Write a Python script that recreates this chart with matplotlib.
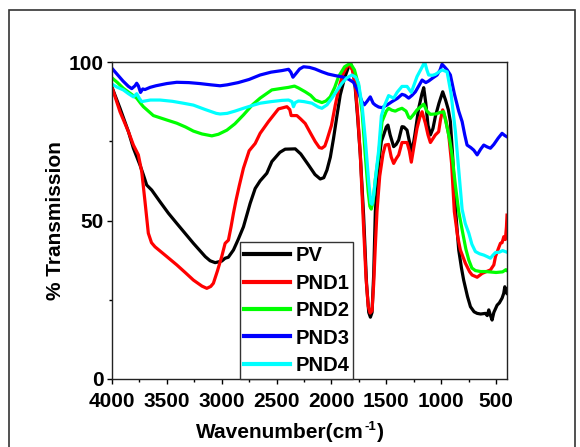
import matplotlib
matplotlib.use("Agg")
import matplotlib.pyplot as plt
from matplotlib.patches import Rectangle
from matplotlib.ticker import MultipleLocator

plt.rcParams['font.family'] = ['Liberation Sans', 'DejaVu Sans']
plt.rcParams['font.weight'] = 'bold'

# ---------------- data (wavenumber cm-1, % transmission) ----------------
pv_wn = [4000, 3927, 3850, 3805, 3745, 3714, 3684, 3638, 3562, 3486, 3410, 3258, 3150, 3106, 3060, 3000,
         2969, 2940, 2893, 2850, 2802, 2741, 2695, 2650, 2589, 2543, 2470, 2422, 2330, 2280, 2209, 2150,
         2102, 2070, 2041, 2010, 1981, 1950, 1920, 1880, 1844, 1825, 1800, 1783, 1760, 1737, 1707, 1680,
         1660, 1645, 1630, 1615, 1600, 1570, 1545, 1524, 1500, 1485, 1465, 1433, 1410, 1387, 1357, 1340,
         1311, 1290, 1265, 1240, 1205, 1175, 1159, 1140, 1120, 1098, 1075, 1053, 1020, 986, 960, 935, 916,
         895, 870, 840, 815, 795, 760, 733, 700, 672, 640, 597, 580, 566, 550, 536, 520, 490, 470, 445,
         430, 420, 410, 400]
pv_t = [92, 85.4, 78, 72.8, 67.5, 64.4, 61.2, 59.6, 55.9, 52.3, 49.1, 42.8, 38.6, 37.3, 36.7, 37.2,
        38.1, 38.4, 40.7, 44, 48, 55.4, 60.1, 62.5, 64.9, 68.6, 71.5, 72.5, 72.6, 71, 67.5, 64.5,
        63.1, 63.5, 65.9, 70, 75.9, 83, 89.6, 95, 98.5, 99.5, 97, 91.7, 82, 70.7, 51.7, 30,
        21, 19.5, 21, 33, 52.8, 68, 75, 77, 79.5, 80.1, 77, 73.3, 74, 75.4, 79.6, 79.5,
        78.5, 75, 71.7, 77, 85.4, 90, 91.9, 87, 80, 77, 79, 82.8, 87, 90.6, 88, 85, 81.2,
        70, 53.8, 40.7, 35, 31.2, 26, 22.8, 21.2, 20.7, 20.5, 20.7, 20, 21.8, 20, 18.6, 21, 23.3, 24, 25.5,
        27, 29.1, 28, 27]

pnd1_wn = [4000, 3927, 3850, 3805, 3760, 3729, 3699, 3669, 3640, 3608, 3500, 3410, 3330, 3258, 3180, 3136,
           3100, 3076, 3040, 3000, 2969, 2939, 2915, 2893, 2869, 2840, 2802, 2750, 2695, 2650, 2574, 2483,
           2406, 2380, 2367, 2315, 2280, 2239, 2190, 2148, 2110, 2087, 2060, 2041, 2000, 1965, 1930, 1899,
           1860, 1835, 1810, 1783, 1760, 1737, 1710, 1685, 1665, 1648, 1630, 1615, 1600, 1585, 1560, 1530,
           1509, 1479, 1455, 1433, 1410, 1387, 1357, 1311, 1290, 1272, 1245, 1220, 1195, 1174, 1144, 1120,
           1098, 1053, 1023, 1005, 986, 960, 931, 905, 880, 850, 825, 779, 740, 718, 672, 627, 580, 551,
           520, 505, 480, 460, 445, 429, 415, 405, 400]
pnd1_t = [92, 84.3, 78, 73.8, 70.7, 65.4, 55.9, 46, 43, 41.7, 38.6, 36, 33.5, 31.2, 29.3, 28.6,
          29.2, 30.2, 34, 38.6, 42.8, 43.8, 48, 52.3, 56.5, 61, 66.5, 72, 74.3, 77.5, 81.2, 85.2,
          85.9, 85, 83.1, 83.1, 82, 80.6, 77.5, 74.9, 73, 72.8, 73.5, 75.4, 80, 86.4, 92, 95.9,
          98.5, 99, 97.5, 92.7, 83, 70.7, 50, 32, 23, 20.8, 21.5, 30, 42, 52.8, 64, 71,
          73.8, 74, 70, 68, 69.5, 70.7, 74.6, 74.6, 72, 68.4, 74, 79.1, 82.5, 84.3, 80.7, 77,
          74.6, 77, 78, 82, 84.9, 82, 77, 68, 52.8, 45, 40.7, 36.5, 33.8, 32.8, 32.1, 33.3, 34, 34.4,
          36, 38.6, 41, 42.8, 43, 44.9, 44, 48, 51.7]

pnd2_wn = [4000, 3950, 3897, 3830, 3775, 3740, 3714, 3623, 3500, 3410, 3330, 3258, 3180, 3090, 3030, 2953,
           2880, 2802, 2720, 2650, 2543, 2450, 2391, 2337, 2300, 2239, 2190, 2148, 2087, 2050, 2011, 1970,
           1935, 1880, 1828, 1790, 1753, 1720, 1692, 1665, 1650, 1637, 1620, 1600, 1570, 1539, 1500, 1479,
           1450, 1418, 1390, 1357, 1320, 1295, 1281, 1250, 1220, 1159, 1130, 1098, 1050, 1007, 977, 950,
           925, 901, 870, 840, 803, 775, 748, 720, 688, 640, 597, 500, 440, 410, 400]
pnd2_t = [95, 93.5, 91.7, 90, 88.6, 87, 85.9, 83.1, 81.7, 80.7, 79.5, 78.2, 77.3, 76.7, 77.2, 78.5,
          80.5, 83.3, 86.5, 88.6, 91.2, 91.7, 92, 92.4, 91.8, 90.6, 89.5, 88, 87.2, 87.7, 89, 92,
          95.4, 98.5, 99.6, 97.5, 92.7, 84, 70.7, 59, 54.5, 53.6, 56, 63, 70.7, 81.2, 84.5, 85.4,
          84.8, 84.5, 85, 85.4, 84.5, 82.5, 82.2, 83.5, 84.9, 86.7, 84.5, 83.5, 83.6, 84.1, 84.3, 80,
          76, 70.7, 61, 52.8, 46, 41, 37.5, 35, 34.2, 33.9, 33.9, 33.6, 33.8, 34.5, 34.2]

pnd3_wn = [4000, 3950, 3900, 3850, 3820, 3790, 3775, 3760, 3740, 3720, 3700, 3653, 3600, 3500, 3410, 3300,
           3200, 3100, 3015, 2950, 2850, 2750, 2650, 2550, 2450, 2391, 2370, 2351, 2320, 2290, 2254, 2200,
           2150, 2087, 2030, 1965, 1900, 1844, 1800, 1760, 1722, 1700, 1675, 1646, 1620, 1600, 1570, 1539,
           1500, 1448, 1400, 1357, 1330, 1296, 1265, 1235, 1200, 1174, 1140, 1114, 1075, 1037, 1010, 992,
           970, 945, 916, 880, 840, 809, 785, 764, 730, 703, 672, 640, 612, 580, 551, 520, 480, 445,
           420, 400]
pnd3_t = [98, 96, 94, 92.3, 91.6, 92.5, 93.3, 92.5, 90.4, 91.5, 91.3, 92, 92.5, 93.2, 93.6, 93.5,
          93.2, 92.8, 92.5, 92.8, 93.5, 94.5, 95.9, 96.8, 97.3, 97.7, 96.8, 95.2, 96.5, 97.8, 98.5, 98.3,
          97.8, 96.9, 96.2, 95.7, 95.3, 94.6, 93.6, 91, 87.5, 86.5, 87.6, 89, 87, 86.4, 85.8, 85.6,
          86.3, 87.5, 88.5, 89.8, 89.5, 88.6, 89.5, 90.6, 92.7, 94.3, 93.5, 94, 95, 95.9, 97.5, 99.3,
          98.5, 97.5, 95.9, 90, 84.5, 81.2, 77, 73.8, 73, 72.2, 70.7, 72.5, 73.8, 73.2, 72.8, 74, 76, 77.5,
          76.8, 76.4]

pnd4_wn = [4000, 3950, 3897, 3850, 3805, 3775, 3750, 3729, 3700, 3650, 3562, 3450, 3350, 3258, 3150, 3050,
           3015, 2950, 2880, 2802, 2700, 2650, 2550, 2450, 2391, 2360, 2346, 2330, 2300, 2250, 2178, 2120,
           2087, 2040, 1996, 1950, 1905, 1860, 1813, 1780, 1753, 1720, 1692, 1660, 1640, 1630, 1615, 1590,
           1570, 1545, 1520, 1479, 1433, 1400, 1357, 1311, 1272, 1245, 1220, 1180, 1150, 1130, 1114, 1080,
           1053, 992, 946, 910, 870, 840, 809, 780, 748, 720, 688, 650, 612, 580, 551, 530, 505, 470,
           440, 400]
pnd4_t = [93, 92, 91.2, 90, 89, 90, 88.5, 87.5, 87.7, 88, 88, 87.6, 87, 86.4, 85, 83.8,
          83.6, 83.8, 84.5, 85.4, 86.5, 87, 87.5, 87.9, 88, 87.5, 85.9, 87.2, 87.7, 87.5, 87, 85.8,
          85.4, 86.5, 88.6, 91, 93.3, 95, 95.9, 95.2, 93.3, 86, 75.9, 62, 55.5, 55.1, 58, 66,
          72, 83, 86, 89.4, 88.6, 90.5, 92.3, 92.3, 90.4, 93, 95.4, 98, 100, 97.5, 95.9, 95.8,
          96.1, 97.5, 96.9, 90, 78, 66, 53.5, 49, 46, 42.5, 40.2, 39.5, 39.1, 38.6, 38.1, 39, 39.9, 40,
          40.5, 40]

series_names = ['PV', 'PND1', 'PND2', 'PND3', 'PND4']
series_colors = ['#000000', '#FF0000', '#00FF00', '#0000FF', '#00FFFF']

x_ticks = [4000, 3500, 3000, 2500, 2000, 1500, 1000, 500]
y_ticks = [0, 50, 100]

# ---------------- figure ----------------
W, H = 580, 447
fig = plt.figure(figsize=(5.8, 4.47), dpi=100)
ax = fig.add_axes([112 / W, 1 - 379 / H, (507 - 112) / W, (379 - 62) / H])

data = [(pv_wn, pv_t), (pnd1_wn, pnd1_t), (pnd2_wn, pnd2_t), (pnd3_wn, pnd3_t), (pnd4_wn, pnd4_t)]
for (wn, t), name, col in zip(data, series_names, series_colors):
    ax.plot(wn, t, color=col, lw=2.3, label=name, solid_joinstyle='round')

ax.set_xlim(4000, 400)
ax.set_ylim(0, 100)
ax.set_xticks(x_ticks)
ax.set_yticks(y_ticks)
ax.xaxis.set_minor_locator(MultipleLocator(250))
ax.yaxis.set_minor_locator(MultipleLocator(25))
ax.tick_params(axis='both', which='major', direction='out', length=3.8, width=1,
               labelsize=15, top=False, right=False)
ax.tick_params(axis='x', which='major', pad=5.5)
ax.tick_params(axis='y', which='major', pad=2)
ax.tick_params(axis='both', which='minor', direction='out', length=2.5, width=1,
               top=False, right=False)
for lab in ax.get_xticklabels() + ax.get_yticklabels():
    lab.set_fontweight('bold')
for sp in ax.spines.values():
    sp.set_linewidth(1.0)
    sp.set_color('#222222')

ax.set_ylabel('% Transmission', fontsize=15, fontweight='bold', labelpad=3)

leg = ax.legend(loc='lower left', bbox_to_anchor=(0.324, 0.0), borderaxespad=0,
                prop={'size': 14.5, 'weight': 'bold'}, handlelength=2.3, handletextpad=0.25,
                borderpad=0.2, labelspacing=0.42, fancybox=False, framealpha=1,
                edgecolor='#333333')
leg.get_frame().set_linewidth(1.0)
for lh in leg.get_lines():
    lh.set_linewidth(3)

# x-axis label built from pieces so the superscript uses a plain hyphen
base_y = (H - 438) / H
t1 = fig.text(196 / W, base_y, 'Wavenumber(cm', fontsize=15, fontweight='bold',
              ha='left', va='baseline')
fig.canvas.draw()
r = fig.canvas.get_renderer()
e1 = t1.get_window_extent(r)
t2 = fig.text(e1.x1 / W + 0.5 / W, base_y + 8 / H, '-1', fontsize=9.5, fontweight='bold',
              ha='left', va='baseline')
e2 = t2.get_window_extent(r)
fig.text(e2.x1 / W + 0.5 / W, base_y, ')', fontsize=15, fontweight='bold',
         ha='left', va='baseline')

# outer frame
fig.patches.append(Rectangle((9 / W, -0.05), (575 - 9) / W, (H - 10) / H + 0.05,
                             transform=fig.transFigure, fill=False, edgecolor='#333333',
                             lw=1.2, clip_on=False))

fig.savefig('out.png', dpi=100)
